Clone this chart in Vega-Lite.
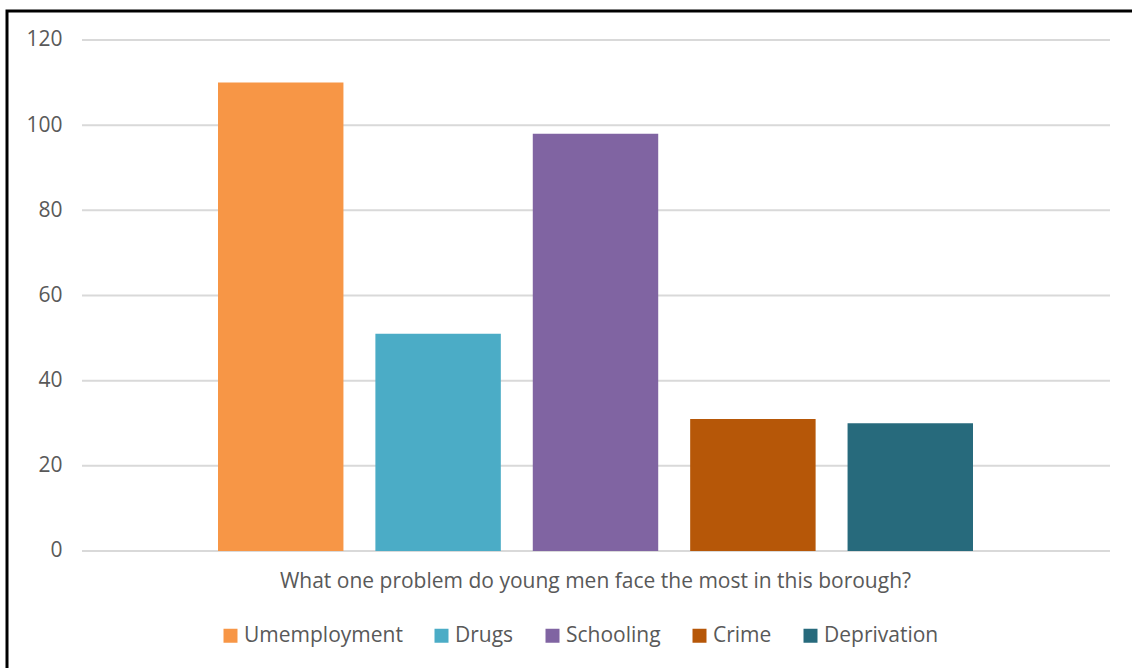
{
  "$schema": "https://vega.github.io/schema/vega-lite/v6.json",
  "width": 1177,
  "height": 670,
  "autosize": {"type": "none"},
  "padding": {"left": 7, "top": 11, "right": 0, "bottom": 0},
  "background": "white",
  "config": {
    "view": {"stroke": "#000000", "strokeWidth": 3},
    "font": "Open Sans"
  },
  "layer": [
    {
      "data": {"values": [{"v": 0}, {"v": 20}, {"v": 40}, {"v": 60}, {"v": 80}, {"v": 100}, {"v": 120}]},
      "mark": {"type": "rule", "color": "#d9d9d9", "strokeWidth": 2},
      "encoding": {
        "y": {
          "field": "v",
          "type": "quantitative",
          "scale": {"domain": [-30.53, 126.81], "nice": false, "zero": false},
          "axis": {
            "title": null,
            "values": [0, 20, 40, 60, 80, 100, 120],
            "offset": -55,
            "domain": false,
            "ticks": false,
            "tickSize": 0,
            "grid": false,
            "labelPadding": 0,
            "labelFontSize": 21,
            "labelColor": "#595959",
            "labelFont": "Open Sans"
          }
        },
        "x": {
          "datum": 0,
          "type": "quantitative",
          "scale": {"domain": [-0.07296, 1.07198], "nice": false, "zero": false},
          "axis": null
        },
        "x2": {"datum": 1}
      }
    },
    {
      "data": {
        "values": [
          {"problem": "Umemployment", "count": 110},
          {"problem": "Drugs", "count": 51},
          {"problem": "Schooling", "count": 98},
          {"problem": "Crime", "count": 31},
          {"problem": "Deprivation", "count": 30}
        ]
      },
      "mark": {"type": "bar"},
      "encoding": {
        "x": {
          "field": "problem",
          "type": "nominal",
          "sort": null,
          "scale": {"range": [211, 966], "paddingInner": 0.203, "paddingOuter": 0},
          "axis": {
            "title": "What one problem do young men face the most in this borough?",
            "labels": false,
            "ticks": false,
            "domain": false,
            "grid": false,
            "offset": -111,
            "titlePadding": 0,
            "titleFontSize": 21,
            "titleFontWeight": "normal",
            "titleColor": "#595959",
            "titleFont": "Open Sans",
            "titleX": 588
          }
        },
        "y": {"field": "count", "type": "quantitative", "axis": {"title": null}},
        "y2": {"datum": 0},
        "color": {
          "field": "problem",
          "type": "nominal",
          "sort": null,
          "scale": {
            "domain": ["Umemployment", "Drugs", "Schooling", "Crime", "Deprivation"],
            "range": ["#F79646", "#4BACC6", "#8064A2", "#B65708", "#276A7C"]
          },
          "legend": {
            "orient": "none",
            "direction": "horizontal",
            "legendX": 213,
            "legendY": 614,
            "title": null,
            "symbolType": "square",
            "symbolSize": 196,
            "symbolStrokeWidth": 0,
            "labelFontSize": 21,
            "labelColor": "#595959",
            "labelFont": "Open Sans",
            "labelOffset": 3,
            "columnPadding": 28
          }
        }
      }
    }
  ],
  "resolve": {"scale": {"x": "independent"}, "axis": {"x": "independent"}}
}
